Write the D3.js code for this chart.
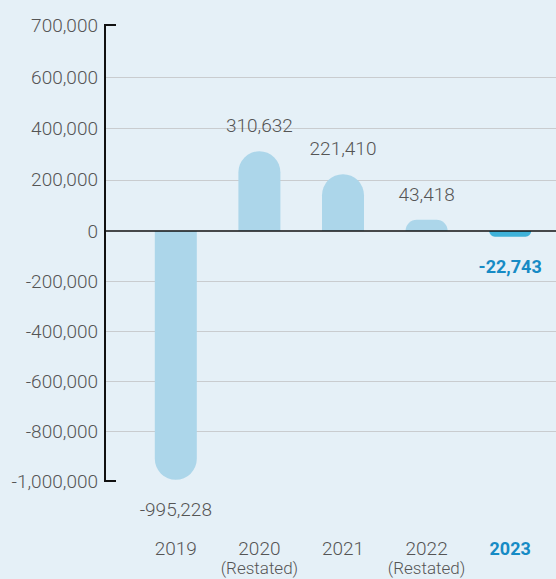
<!DOCTYPE html>
<html>
  <head>
    <meta charset="utf-8">
    <style>
      body { margin: 0; background-color: #e5f0f7; }
      svg { display: block; background-color: #e5f0f7; }
      .lbl { fill: #555555; font-size: 19px; font-weight: 300; font-family: Roboto, "Liberation Sans", sans-serif; }
      .grid { stroke: #c9cccf; stroke-width: 1.2; }
    </style>
  </head>
  <body>
    <script src="https://d3js.org/d3.v7.min.js"></script>
    <script>
      // chart data
      const years = ["2019", "2020", "2021", "2022", "2023"]
      const subLabels = ["", "(Restated)", "", "(Restated)", ""]
      const values = [-995228, 310632, 221410, 43418, -22743]
      const tickValues = [700000, 600000, 400000, 200000, 0, -200000, -400000, -600000, -800000, -1000000]
      const tickLabels = ["700,000", "600,000", "400,000", "200,000", "0", "-200,000", "-400,000", "-600,000", "-800,000", "-1,000,000"]
      const highlight = "2023"

      const w = 556
      const h = 579
      const axisX = 105
      const barWidth = 42

      const svg = d3.select("body")
        .append("svg")
          .attr("width", w)
          .attr("height", h)

      // the top tick sits a bit higher than a straight scale would put it
      const yScale = d3.scaleLinear()
        .domain([-1000000, 0, 600000, 700000])
        .range([481, 231, 77, 25])

      const xScale = d3.scaleBand()
        .domain(years)
        .range([134, 552])
        .padding(0)

      // gridlines
      svg.selectAll(".grid")
        .data(tickValues.filter(d => d != 0 && d != 700000 && d != -1000000))
        .enter()
        .append("line")
          .attr("class", "grid")
          .attr("x1", axisX)
          .attr("x2", w)
          .attr("y1", d => Math.round(yScale(d)) + 0.5)
          .attr("y2", d => Math.round(yScale(d)) + 0.5)

      // bars with a round end away from zero
      const barPath = function(d, i) {
        const cx = xScale(years[i]) + xScale.bandwidth() / 2
        const x0 = cx - barWidth / 2
        const x1 = cx + barWidth / 2
        const y0 = yScale(0)
        const yv = yScale(d)
        const len = Math.abs(y0 - yv)
        const r = Math.min(barWidth / 2, len)
        if (d >= 0) {
          return "M" + x0 + "," + y0 + "V" + (yv + r) +
            "A" + r + "," + r + " 0 0 1 " + (x0 + r) + "," + yv +
            "H" + (x1 - r) +
            "A" + r + "," + r + " 0 0 1 " + x1 + "," + (yv + r) +
            "V" + y0 + "Z"
        }
        return "M" + x0 + "," + y0 + "V" + (yv - r) +
          "A" + r + "," + r + " 0 0 0 " + (x0 + r) + "," + yv +
          "H" + (x1 - r) +
          "A" + r + "," + r + " 0 0 0 " + x1 + "," + (yv - r) +
          "V" + y0 + "Z"
      }

      svg.selectAll(".bar")
        .data(values)
        .enter()
        .append("path")
          .attr("class", "bar")
          .attr("d", barPath)
          .attr("fill", (d, i) => years[i] == highlight ? "#3fb2d9" : "#acd6ea")

      // zero line
      svg.append("line")
        .attr("x1", axisX)
        .attr("x2", w)
        .attr("y1", yScale(0))
        .attr("y2", yScale(0))
        .attr("stroke", "#111")
        .attr("stroke-width", 1.5)

      // y axis
      const yAxis = d3.axisLeft(yScale)
        .tickValues(tickValues)
        .tickFormat((d, i) => tickLabels[i])
        .tickSize(0)
        .tickPadding(7)
      const gy = svg.append("g")
        .attr("transform", "translate(" + axisX + ",0)")
        .call(yAxis)
      gy.attr("font-family", null).attr("font-size", null)
      gy.select(".domain").remove()
      gy.selectAll("text")
        .attr("class", "lbl")
        .attr("fill", null)

      svg.append("path")
        .attr("d", "M" + (axisX + 11) + "," + yScale(700000) +
          "H" + axisX + "V" + yScale(-1000000) + "H" + (axisX + 11))
        .attr("fill", "none")
        .attr("stroke", "#111")
        .attr("stroke-width", 2)

      // value labels
      svg.selectAll(".val")
        .data(values)
        .enter()
        .append("text")
          .attr("class", "lbl val")
          .attr("text-anchor", "middle")
          .attr("x", (d, i) => xScale(years[i]) + xScale.bandwidth() / 2)
          .attr("y", d => d >= 0 ? yScale(d) - 19 : yScale(d) + 36)
          .style("fill", (d, i) => years[i] == highlight ? "#168bc5" : null)
          .style("font-weight", (d, i) => years[i] == highlight ? 700 : null)
          .style("font-size", (d, i) => years[i] == highlight ? "18px" : null)
          .text(d => d3.format(",")(d).replace("−", "-"))

      // x axis labels
      const xAxis = d3.axisBottom(xScale).tickSize(0).tickPadding(0)
      const gx = svg.append("g")
        .attr("transform", "translate(0,542)")
        .call(xAxis)
      gx.attr("font-family", null).attr("font-size", null)
      gx.select(".domain").remove()
      gx.selectAll("text")
        .attr("class", "lbl")
        .attr("fill", null)
        .attr("dy", "0.7em")
        .style("fill", d => d == highlight ? "#168bc5" : null)
        .style("font-weight", d => d == highlight ? 700 : null)
        .style("font-size", d => d == highlight ? "18px" : null)

      svg.selectAll(".sub")
        .data(subLabels)
        .enter()
        .append("text")
          .attr("class", "lbl sub")
          .attr("text-anchor", "middle")
          .attr("x", (d, i) => xScale(years[i]) + xScale.bandwidth() / 2)
          .attr("y", 574)
          .style("font-size", "17px")
          .text(d => d)
    </script>
  </body>
</html>
